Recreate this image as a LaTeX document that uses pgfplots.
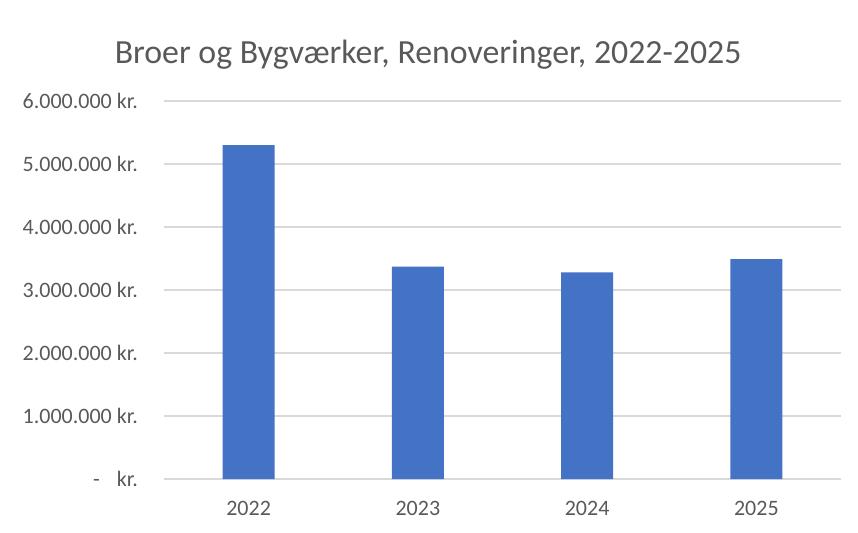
\documentclass[border=0pt]{standalone}
\usepackage{fontspec}
\setmainfont{Carlito}
\usepackage{pgfplots}
\pgfplotsset{compat=1.18}
\definecolor{barblue}{HTML}{4472C4}
\definecolor{txtgrey}{HTML}{595959}
\definecolor{gridgrey}{HTML}{D9D9D9}
\begin{document}
\begin{tikzpicture}[x=1pt,y=1pt]
\path[use as bounding box] (0,0) rectangle (858,532);
\begin{axis}[
  at={(164pt,53pt)}, anchor=south west,
  scale only axis, width=677pt, height=378pt,
  xmin=-0.5, xmax=3.5, ymin=0, ymax=6000000,
  axis line style={draw=none},
  major tick style={draw=none},
  ytick={0,1000000,2000000,3000000,4000000,5000000,6000000},
  yticklabels={{-\hspace{17pt}kr.},{1.000.000 kr.},{2.000.000 kr.},{3.000.000 kr.},{4.000.000 kr.},{5.000.000 kr.},{6.000.000 kr.}},
  scaled y ticks=false,
  xtick={0,1,2,3},
  xticklabels={2022,2023,2024,2025},
  ymajorgrids,
  grid style={gridgrey, line width=1.3pt},
  yticklabel style={anchor=east, inner sep=0pt, xshift=-26pt, font=\fontsize{22}{22}\selectfont, text=txtgrey},
  xticklabel style={anchor=base, inner sep=0pt, yshift=-36pt, font=\fontsize{22}{22}\selectfont, text=txtgrey},
  title={Broer og Bygværker, Renoveringer, 2022-2025},
  title style={anchor=base, at={(axis description cs:0.39,1.0839)}, inner sep=0pt, font=\fontsize{33.8}{33.8}\selectfont, text=txtgrey},
  clip=false,
]
\addplot[ybar, bar width=52pt, fill=barblue, draw=none] coordinates {
  (0,5300000) (1,3370000) (2,3280000) (3,3490000)
};
\end{axis}
\end{tikzpicture}
\end{document}
